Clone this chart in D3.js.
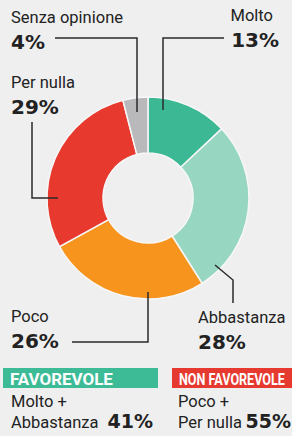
<!DOCTYPE html>
<html>
<head>
<script src="https://d3js.org/d3.v7.min.js"></script>
<style>
  body { margin: 0; background: #efefef; }
  text { font-family: Roboto, "Liberation Sans", sans-serif; fill: #222; }
  .pct { font-family: "DejaVu Sans", Roboto, sans-serif; font-weight: bold; }
</style>
</head>
<body>
<svg width="292" height="436"></svg>
<script>
// data
const categories = ["Molto", "Abbastanza", "Poco", "Per nulla", "Senza opinione"];
const values = [13, 28, 26, 29, 4];
const colors = ["#3cb894", "#97d6c1", "#f7941e", "#e8392f", "#b9b9bb"];
const groups = ["FAVOREVOLE", "NON FAVOREVOLE"];
const groupLines = [["Molto +", "Abbastanza"], ["Poco +", "Per nulla"]];
const groupValues = [41, 55];
const groupColors = ["#3dba96", "#e6392f"];

const svg = d3.select("svg");
const cx = 148, cy = 198, outerR = 101, innerR = 45;

const pie = d3.pie().sort(null).value(d => d);
const arc = d3.arc().innerRadius(innerR).outerRadius(outerR);
const arcs = pie(values);

const g = svg.append("g").attr("transform", `translate(${cx},${cy})`);
g.selectAll("path")
  .data(arcs)
  .enter().append("path")
  .attr("d", arc)
  .attr("fill", (d, i) => colors[i])
  .attr("stroke", "#f7f7f7")
  .attr("stroke-width", 1.5);

// label positions and leader lines
const labelPos = [
  {x: 279, y: 21, anchor: "end",
   pts: [[224, 38], [163, 38], [163, 110]]},
  {x: 198, y: 323, anchor: "start",
   pts: [[233, 303], [233, 280], [215, 265]]},
  {x: 11, y: 322, anchor: "start",
   pts: [[72, 342], [148, 342], [148, 292]]},
  {x: 11, y: 88, anchor: "start",
   pts: [[32, 122], [32, 198], [58, 198]]},
  {x: 11, y: 23, anchor: "start",
   pts: [[55, 38], [137, 38], [137, 112]]}
];

const line = d3.line();
categories.forEach((c, i) => {
  const p = labelPos[i];
  svg.append("text")
    .attr("x", i === 0 ? 273 : p.x)
    .attr("y", p.y)
    .attr("text-anchor", p.anchor)
    .style("font-size", "16.5px")
    .text(c);
  svg.append("text")
    .attr("class", "pct")
    .attr("x", p.x)
    .attr("y", p.y + 26)
    .attr("text-anchor", p.anchor)
    .style("font-size", "20px")
    .text(values[i] + "%");
  svg.append("path")
    .attr("d", line(p.pts))
    .attr("fill", "none")
    .attr("stroke", "#2a2a2a")
    .attr("stroke-width", 1.5);
});

// bottom summary
const boxes = [{x: 3, w: 155, tx: 10, tl: 103}, {x: 172, w: 120, tx: 179, tl: 106}];
groups.forEach((gName, i) => {
  const b = boxes[i];
  svg.append("rect")
    .attr("x", b.x).attr("y", 368)
    .attr("width", b.w).attr("height", 20)
    .attr("fill", groupColors[i]);
  // condensed look: squeeze the text horizontally
  const t = svg.append("text")
    .attr("y", 385)
    .style("font-size", "17px")
    .style("font-weight", "bold")
    .style("fill", "#fff")
    .text(gName);
  const w = t.node().getComputedTextLength();
  t.attr("transform", `translate(${b.tx},0) scale(${b.tl / w},1)`);
  const tx = i === 0 ? 11 : 178;
  svg.append("text")
    .attr("x", tx).attr("y", 407)
    .style("font-size", "16.5px")
    .text(groupLines[i][0]);
  svg.append("text")
    .attr("x", tx).attr("y", 428)
    .style("font-size", "16.5px")
    .text(groupLines[i][1]);
  svg.append("text")
    .attr("class", "pct")
    .attr("x", i === 0 ? 153 : 291).attr("y", 428)
    .attr("text-anchor", "end")
    .style("font-size", "19px")
    .text(groupValues[i] + "%");
});
</script>
</body>
</html>
